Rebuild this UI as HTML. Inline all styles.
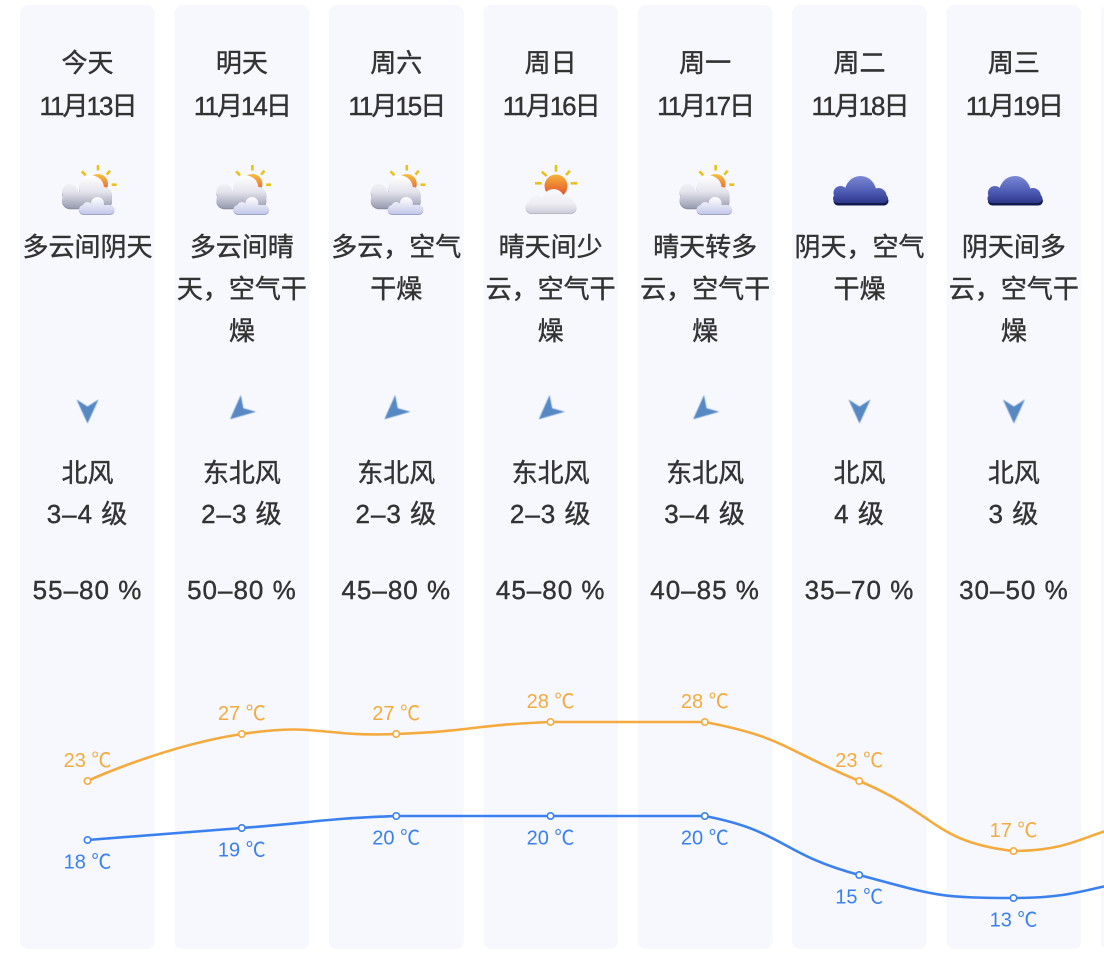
<!DOCTYPE html>
<html><head><meta charset="utf-8">
<style>
html,body{margin:0;padding:0;background:#fff;}
body{width:1104px;height:962px;position:relative;overflow:hidden;font-family:"Liberation Sans","Noto Sans CJK SC",sans-serif;color:#333;}
svg{position:absolute;left:0;top:0;}
.col{position:absolute;top:0;width:135px;height:962px;}
.l{position:absolute;left:-20px;width:175px;height:42px;line-height:42px;font-size:26px;text-align:center;white-space:nowrap;-webkit-text-stroke:0.4px #333;}
.d{letter-spacing:-2px;}
.n{letter-spacing:1px;}
</style></head><body>
<svg width="1104" height="962" viewBox="0 0 1104 962">
<defs>
  <linearGradient id="cl" gradientUnits="userSpaceOnUse" x1="0" y1="-14" x2="0" y2="18">
    <stop offset="0" stop-color="#ffffff"/><stop offset="0.5" stop-color="#e3e3ec"/><stop offset="1" stop-color="#9a9db0"/>
  </linearGradient>
  <linearGradient id="cs" gradientUnits="userSpaceOnUse" x1="0" y1="7" x2="0" y2="24">
    <stop offset="0" stop-color="#ffffff"/><stop offset="1" stop-color="#c4c8ea"/>
  </linearGradient>
  <linearGradient id="sun" gradientUnits="userSpaceOnUse" x1="0" y1="-16" x2="0" y2="6">
    <stop offset="0" stop-color="#f6c040"/><stop offset="1" stop-color="#e4432b"/>
  </linearGradient>
  <linearGradient id="sun2" gradientUnits="userSpaceOnUse" x1="0" y1="-15" x2="0" y2="8">
    <stop offset="0" stop-color="#f5b13a"/><stop offset="1" stop-color="#e2452c"/>
  </linearGradient>
  <linearGradient id="wc" gradientUnits="userSpaceOnUse" x1="0" y1="-1" x2="0" y2="23">
    <stop offset="0" stop-color="#ffffff"/><stop offset="0.6" stop-color="#f2f2f7"/><stop offset="1" stop-color="#cfd0dc"/>
  </linearGradient>
  <linearGradient id="dk" gradientUnits="userSpaceOnUse" x1="0" y1="-15" x2="0" y2="14">
    <stop offset="0" stop-color="#7e8bd8"/><stop offset="0.55" stop-color="#4f5db5"/><stop offset="1" stop-color="#2a3588"/>
  </linearGradient>
  <clipPath id="dcc"><rect x="-40" y="-30" width="80" height="43"/></clipPath>
  <clipPath id="dcs"><rect x="-40" y="-30" width="80" height="45.5"/></clipPath>
  <filter id="bl" x="-20%" y="-20%" width="140%" height="140%"><feGaussianBlur stdDeviation="0.5"/></filter>
</defs>

<!-- columns -->
<g fill="#f7f8fe">
  <rect x="20" y="5" width="135" height="944" rx="8"/>
  <rect x="174.4" y="5" width="135" height="944" rx="8"/>
  <rect x="328.8" y="5" width="135" height="944" rx="8"/>
  <rect x="483.2" y="5" width="135" height="944" rx="8"/>
  <rect x="637.6" y="5" width="135" height="944" rx="8"/>
  <rect x="792" y="5" width="135" height="944" rx="8"/>
  <rect x="946.4" y="5" width="135" height="944" rx="8"/>
  <rect x="1100.8" y="5" width="135" height="944" rx="8"/>
</g>

<!-- partly cloudy icons -->
<g id="pc1" transform="translate(87.5,190)">
  <g stroke="#e8c21b" stroke-width="2.6">
    <line x1="10.5" y1="-25" x2="10.5" y2="-19.5"/>
    <line x1="-5.8" y1="-18.7" x2="-1.8" y2="-14.7"/>
    <line x1="22.5" y1="-19.3" x2="19.2" y2="-15.3"/>
    <line x1="24.2" y1="-5.3" x2="29.2" y2="-5.3"/>
  </g>
  <circle cx="10.5" cy="-6" r="10" fill="url(#sun)"/>
  <g fill="#8e90a2" transform="translate(0,1.2)">
    <circle cx="-17.5" cy="2" r="8"/><circle cx="4" cy="-2" r="12.5"/><circle cx="16.5" cy="5" r="8"/>
    <rect x="-25.5" y="2" width="50" height="16" rx="8"/>
  </g>
  <g fill="url(#cl)">
    <circle cx="-17.5" cy="2" r="8"/><circle cx="4" cy="-2" r="12.5"/><circle cx="16.5" cy="5" r="8"/>
    <rect x="-25.5" y="2" width="50" height="16" rx="8"/>
  </g>
  <g fill="#9da2c8" transform="translate(0,1)">
    <circle cx="0" cy="17" r="5"/><circle cx="10" cy="13.5" r="6.5"/>
    <rect x="-8.5" y="15" width="35.5" height="9" rx="4.5"/>
  </g>
  <g fill="url(#cs)">
    <circle cx="0" cy="17" r="5"/><circle cx="10" cy="13.5" r="6.5"/>
    <rect x="-8.5" y="15" width="35.5" height="9" rx="4.5"/>
  </g>
</g>
<use href="#pc1" transform="translate(154.4,0)"/>
<use href="#pc1" transform="translate(308.8,0)"/>
<use href="#pc1" transform="translate(617.6,0)"/>

<!-- sun over cloud icon col4 -->
<g transform="translate(550.5,190)">
  <g stroke="#e8c21b" stroke-width="2.6">
    <line x1="5.5" y1="-25" x2="5.5" y2="-18.3"/>
    <line x1="-8.8" y1="-18.3" x2="-3.8" y2="-14"/>
    <line x1="19.5" y1="-19.3" x2="15.5" y2="-15"/>
    <line x1="-15.5" y1="-6.7" x2="-8.8" y2="-6.7"/>
    <line x1="20.2" y1="-6.7" x2="26.8" y2="-6.7"/>
  </g>
  <circle cx="5.5" cy="-4" r="11.5" fill="url(#sun2)"/>
  <g fill="#b5b6c3" transform="translate(0,1)">
    <circle cx="-14" cy="12" r="7"/><circle cx="3" cy="10" r="11"/><circle cx="16" cy="13" r="7"/>
    <rect x="-25" y="11" width="51" height="12" rx="6"/>
  </g>
  <g fill="url(#wc)" opacity="0.93">
    <circle cx="-14" cy="12" r="7"/><circle cx="3" cy="10" r="11"/><circle cx="16" cy="13" r="7"/>
    <rect x="-25" y="11" width="51" height="12" rx="6"/>
  </g>
</g>

<!-- dark cloud icons -->
<g id="dc" transform="translate(859.5,190)">
  <g fill="#121a4c" transform="translate(0.5,2.5)" clip-path="url(#dcc)">
    <circle cx="-19" cy="3" r="7"/><ellipse cx="1" cy="3" rx="16" ry="17"/><circle cx="19" cy="6" r="8"/>
    <rect x="-26.5" y="4" width="55" height="9" rx="4.5"/>
  </g>
  <g fill="url(#dk)" clip-path="url(#dcc)">
    <circle cx="-19" cy="3" r="7"/><ellipse cx="1" cy="3" rx="16" ry="17"/><circle cx="19" cy="6" r="8"/>
    <rect x="-26.5" y="4" width="55" height="9" rx="4.5"/>
  </g>
</g>
<use href="#dc" transform="translate(154.4,0)"/>

<!-- wind arrows -->
<g fill="#5688c3" filter="url(#bl)">
  <polygon points="76.5,399.5 87.5,406.5 98.5,399.5 87.5,423.5"/>
  <polygon points="848.5,399.5 859.5,406.5 870.5,399.5 859.5,423.5"/>
  <polygon points="1002.9,399.5 1013.9,406.5 1024.9,399.5 1013.9,423.5"/>
  <polygon points="230,419.3 240.8,395 243.4,408.3 256.1,411.7"/>
  <polygon points="384.4,419.3 395.2,395 397.8,408.3 410.5,411.7"/>
  <polygon points="538.8,419.3 549.6,395 552.2,408.3 564.9,411.7"/>
  <polygon points="693.2,419.3 704,395 706.6,408.3 719.3,411.7"/>
</g>

<!-- chart -->
<path d="M87.5,781 C87.5,781 162.9,746 241.8,734 C317.3,722.5 319.1,737 396.2,734 C473.5,731 473.2,725 550.5,722 C627.5,722 630.3,722 704.8,722 C784.6,737.3 783,749.1 859.2,781 C937.3,813.6 933.7,842 1013.5,851 C1088,851 1090.7,822 1167.8,822" fill="none" stroke="#f5aa3e" stroke-width="2.6"/>
<path d="M87.5,840 C87.5,840 164.6,834 241.8,828 C319,822 318.9,819 396.2,816 C473.2,816 473.35,816 550.5,816 C627.65,816 630.3,816 704.8,816 C784.6,831.3 779.8,853.9 859.2,875 C934.2,894.9 936.35,898 1013.5,898 C1090.65,898 1090.7,882 1167.8,878" fill="none" stroke="#3b80ef" stroke-width="2.6"/>
<g fill="#fff" stroke="#f5aa3e" stroke-width="1.6">
  <circle cx="87.5" cy="781" r="3.2"/><circle cx="241.8" cy="734" r="3.2"/><circle cx="396.2" cy="734" r="3.2"/>
  <circle cx="550.5" cy="722" r="3.2"/><circle cx="704.8" cy="722" r="3.2"/><circle cx="859.2" cy="781" r="3.2"/>
  <circle cx="1013.5" cy="851" r="3.2"/>
</g>
<g fill="#fff" stroke="#3b80ef" stroke-width="1.6">
  <circle cx="87.5" cy="840" r="3.2"/><circle cx="241.8" cy="828" r="3.2"/><circle cx="396.2" cy="816" r="3.2"/>
  <circle cx="550.5" cy="816" r="3.2"/><circle cx="704.8" cy="816" r="3.2"/><circle cx="859.2" cy="875" r="3.2"/>
  <circle cx="1013.5" cy="898" r="3.2"/>
</g>
<g font-family="Liberation Sans, Noto Sans CJK SC, sans-serif" font-size="20" text-anchor="middle" fill="#f5aa3e">
  <text x="87.5" y="767">23 ℃</text>
  <text x="241.8" y="720">27 ℃</text>
  <text x="396.2" y="720">27 ℃</text>
  <text x="550.5" y="708">28 ℃</text>
  <text x="704.8" y="708">28 ℃</text>
  <text x="859.2" y="767">23 ℃</text>
  <text x="1013.5" y="837">17 ℃</text>
</g>
<g font-family="Liberation Sans, Noto Sans CJK SC, sans-serif" font-size="20" text-anchor="middle" fill="#3b80ef">
  <text x="87.5" y="868.5">18 ℃</text>
  <text x="241.8" y="856.5">19 ℃</text>
  <text x="396.2" y="844.5">20 ℃</text>
  <text x="550.5" y="844.5">20 ℃</text>
  <text x="704.8" y="844.5">20 ℃</text>
  <text x="859.2" y="903.5">15 ℃</text>
  <text x="1013.5" y="926.5">13 ℃</text>
</g>
</svg>

<div class="col" style="left:20px">
  <div class="l" style="top:41.5px">今天</div>
  <div class="l d" style="top:84.5px">11月13日</div>
  <div class="l" style="top:225.5px">多云间阴天</div>
  <div class="l" style="top:451.5px">北风</div>
  <div class="l n" style="top:492.5px">3–4 级</div>
  <div class="l n" style="top:568.5px">55–80 %</div>
</div>
<div class="col" style="left:174.4px">
  <div class="l" style="top:41.5px">明天</div>
  <div class="l d" style="top:84.5px">11月14日</div>
  <div class="l" style="top:225.5px">多云间晴</div>
  <div class="l" style="top:267.5px">天，空气干</div>
  <div class="l" style="top:309.5px">燥</div>
  <div class="l" style="top:451.5px">东北风</div>
  <div class="l n" style="top:492.5px">2–3 级</div>
  <div class="l n" style="top:568.5px">50–80 %</div>
</div>
<div class="col" style="left:328.8px">
  <div class="l" style="top:41.5px">周六</div>
  <div class="l d" style="top:84.5px">11月15日</div>
  <div class="l" style="top:225.5px">多云，空气</div>
  <div class="l" style="top:267.5px">干燥</div>
  <div class="l" style="top:451.5px">东北风</div>
  <div class="l n" style="top:492.5px">2–3 级</div>
  <div class="l n" style="top:568.5px">45–80 %</div>
</div>
<div class="col" style="left:483.2px">
  <div class="l" style="top:41.5px">周日</div>
  <div class="l d" style="top:84.5px">11月16日</div>
  <div class="l" style="top:225.5px">晴天间少</div>
  <div class="l" style="top:267.5px">云，空气干</div>
  <div class="l" style="top:309.5px">燥</div>
  <div class="l" style="top:451.5px">东北风</div>
  <div class="l n" style="top:492.5px">2–3 级</div>
  <div class="l n" style="top:568.5px">45–80 %</div>
</div>
<div class="col" style="left:637.6px">
  <div class="l" style="top:41.5px">周一</div>
  <div class="l d" style="top:84.5px">11月17日</div>
  <div class="l" style="top:225.5px">晴天转多</div>
  <div class="l" style="top:267.5px">云，空气干</div>
  <div class="l" style="top:309.5px">燥</div>
  <div class="l" style="top:451.5px">东北风</div>
  <div class="l n" style="top:492.5px">3–4 级</div>
  <div class="l n" style="top:568.5px">40–85 %</div>
</div>
<div class="col" style="left:792px">
  <div class="l" style="top:41.5px">周二</div>
  <div class="l d" style="top:84.5px">11月18日</div>
  <div class="l" style="top:225.5px">阴天，空气</div>
  <div class="l" style="top:267.5px">干燥</div>
  <div class="l" style="top:451.5px">北风</div>
  <div class="l n" style="top:492.5px">4 级</div>
  <div class="l n" style="top:568.5px">35–70 %</div>
</div>
<div class="col" style="left:946.4px">
  <div class="l" style="top:41.5px">周三</div>
  <div class="l d" style="top:84.5px">11月19日</div>
  <div class="l" style="top:225.5px">阴天间多</div>
  <div class="l" style="top:267.5px">云，空气干</div>
  <div class="l" style="top:309.5px">燥</div>
  <div class="l" style="top:451.5px">北风</div>
  <div class="l n" style="top:492.5px">3 级</div>
  <div class="l n" style="top:568.5px">30–50 %</div>
</div>
</body></html>
